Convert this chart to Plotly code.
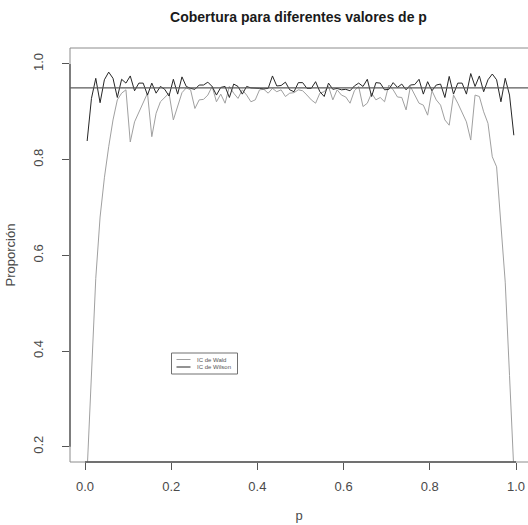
import plotly.graph_objects as go

p = [0.005, 0.015, 0.025, 0.035, 0.045, 0.055, 0.065, 0.075, 0.085, 0.095,
     0.105, 0.115, 0.125, 0.135, 0.145, 0.155, 0.165, 0.175, 0.185, 0.195,
     0.205, 0.215, 0.225, 0.235, 0.245, 0.255, 0.265, 0.275, 0.285, 0.295,
     0.305, 0.315, 0.325, 0.335, 0.345, 0.355, 0.365, 0.375, 0.385, 0.395,
     0.405, 0.415, 0.425, 0.435, 0.445, 0.455, 0.465, 0.475, 0.485, 0.495,
     0.505, 0.515, 0.525, 0.535, 0.545, 0.555, 0.565, 0.575, 0.585, 0.595,
     0.605, 0.615, 0.625, 0.635, 0.645, 0.655, 0.665, 0.675, 0.685, 0.695,
     0.705, 0.715, 0.725, 0.735, 0.745, 0.755, 0.765, 0.775, 0.785, 0.795,
     0.805, 0.815, 0.825, 0.835, 0.845, 0.855, 0.865, 0.875, 0.885, 0.895,
     0.905, 0.915, 0.925, 0.935, 0.945, 0.955, 0.965, 0.975, 0.985, 0.995]

wald = [0.150, 0.370, 0.552, 0.680, 0.762, 0.827, 0.883, 0.925, 0.939, 0.946,
        0.837, 0.879, 0.900, 0.921, 0.939, 0.848, 0.897, 0.921, 0.930, 0.939,
        0.883, 0.914, 0.940, 0.950, 0.946, 0.907, 0.925, 0.926, 0.935, 0.953,
        0.921, 0.937, 0.918, 0.953, 0.939, 0.928, 0.946, 0.935, 0.921, 0.925,
        0.946, 0.947, 0.939, 0.949, 0.942, 0.946, 0.932, 0.939, 0.940, 0.946,
        0.944, 0.935, 0.925, 0.918, 0.939, 0.942, 0.953, 0.925, 0.946, 0.935,
        0.931, 0.918, 0.944, 0.953, 0.911, 0.918, 0.939, 0.925, 0.930, 0.921,
        0.956, 0.946, 0.931, 0.930, 0.904, 0.953, 0.935, 0.918, 0.914, 0.893,
        0.944, 0.925, 0.914, 0.883, 0.872, 0.935, 0.918, 0.900, 0.879, 0.841,
        0.935, 0.932, 0.900, 0.876, 0.806, 0.785, 0.663, 0.544, 0.349, 0.150]

wilson = [0.839, 0.928, 0.970, 0.919, 0.967, 0.983, 0.970, 0.930, 0.968, 0.960,
          0.975, 0.944, 0.960, 0.960, 0.935, 0.960, 0.939, 0.953, 0.947, 0.933,
          0.968, 0.937, 0.973, 0.953, 0.949, 0.947, 0.956, 0.956, 0.962, 0.953,
          0.935, 0.951, 0.953, 0.930, 0.958, 0.953, 0.937, 0.953, 0.950, 0.950,
          0.949, 0.948, 0.949, 0.975, 0.954, 0.955, 0.962, 0.946, 0.942, 0.961,
          0.961, 0.949, 0.949, 0.963, 0.942, 0.932, 0.960, 0.947, 0.949, 0.946,
          0.947, 0.944, 0.954, 0.960, 0.953, 0.968, 0.932, 0.961, 0.960, 0.946,
          0.947, 0.961, 0.951, 0.958, 0.946, 0.956, 0.957, 0.968, 0.937, 0.963,
          0.944, 0.956, 0.958, 0.930, 0.974, 0.937, 0.960, 0.960, 0.937, 0.980,
          0.953, 0.975, 0.942, 0.967, 0.979, 0.967, 0.921, 0.970, 0.935, 0.851]

nominal = 0.95
series_names = ["IC de Wald", "IC de Wilson"]
series_colors = ["#a0a0a0", "#262626"]
x_ticks = [0.0, 0.2, 0.4, 0.6, 0.8, 1.0]
x_ticktext = ["0.0", "0.2", "0.4", "0.6", "0.8", "1.0"]
y_ticks = [0.2, 0.4, 0.6, 0.8, 1.0]
y_ticktext = ["0.2", "0.4", "0.6", "0.8", "1.0"]

FONT = "Liberation Sans, Arial, Helvetica, sans-serif"
TXT = "#4a4a4a"
AX = "#555555"

# plot-area geometry in pixels (for paper-coordinate conversions)
L, R, T, B = 70, 528, 48, 462
def px(xp):
    return (xp - L) / (R - L)
def py(yp):
    return (B - yp) / (B - T)

fig = go.Figure()
for name, ys, col in zip(series_names, [wald, wilson], series_colors):
    fig.add_trace(go.Scatter(x=p, y=ys, mode="lines", name=name,
                             line=dict(color=col, width=1), showlegend=False))

# nominal level line
fig.add_shape(type="line", xref="paper", x0=0, x1=1, yref="y", y0=nominal, y1=nominal,
              line=dict(color="#5a5a5a", width=1.2))
# box (top, left, bottom)
for (x0, y0, x1, y1) in [(0, 1, 1, 1), (0, 0, 0, 1), (0, 0, 1, 0)]:
    fig.add_shape(type="line", xref="paper", yref="paper", x0=x0, y0=y0, x1=x1, y1=y1,
                  line=dict(color="#8c8c8c", width=1))
# axis lines from first to last tick
fig.add_shape(type="line", xref="paper", yref="y", x0=0, x1=0,
              y0=y_ticks[0], y1=y_ticks[-1], line=dict(color=AX, width=1.3))
fig.add_shape(type="line", xref="x", yref="paper", x0=x_ticks[0], x1=x_ticks[-1],
              y0=0, y1=0, line=dict(color=AX, width=1.3))

# legend box (R-style)
fig.add_shape(type="rect", xref="paper", yref="paper",
              x0=px(171.5), x1=px(237.5), y0=py(374), y1=py(353),
              line=dict(color="#707070", width=1), fillcolor="white", layer="above")
for k, (name, col) in enumerate(zip(series_names, series_colors)):
    yy = 359.5 + k * 7.5
    fig.add_shape(type="line", xref="paper", yref="paper",
                  x0=px(176.5), x1=px(190.5), y0=py(yy), y1=py(yy),
                  line=dict(color=col, width=1), layer="above")
    fig.add_annotation(xref="paper", yref="paper", x=px(194.5), y=py(yy),
                       xanchor="left", yanchor="middle", showarrow=False,
                       text=name, font=dict(family=FONT, size=6, color="#555555"))

fig.update_layout(
    width=528, height=525,
    margin=dict(l=L, r=528 - R, t=T, b=525 - B),
    paper_bgcolor="white", plot_bgcolor="white",
    font=dict(family=FONT, color=TXT, size=13),
    title=dict(text="<b>Cobertura para diferentes valores de p</b>",
               x=298.5 / 528, xanchor="center",
               y=1 - 17 / 525, yanchor="middle",
               font=dict(family=FONT, size=14, color="#1a1a1a")),
    showlegend=False,
    xaxis=dict(range=[-0.0348, -0.0348 + 458 / 431], showgrid=False, zeroline=False,
               showline=False, tickmode="array", tickvals=x_ticks, ticktext=x_ticktext,
               ticks="outside", ticklen=7, tickwidth=1.3, tickcolor=AX,
               ticklabelstandoff=5,
               title=dict(text="p", standoff=18, font=dict(size=13, color=TXT))),
    yaxis=dict(range=[0.168, 1.0334], showgrid=False, zeroline=False,
               showline=False, tickmode="array", tickvals=y_ticks, ticktext=y_ticktext,
               ticks="outside", ticklen=7, tickwidth=1.3, tickcolor=AX,
               tickangle=-90, ticklabelstandoff=14,
               title=dict(text="Proporción", standoff=12, font=dict(size=13, color=TXT))),
)

fig.write_html("out.html")
